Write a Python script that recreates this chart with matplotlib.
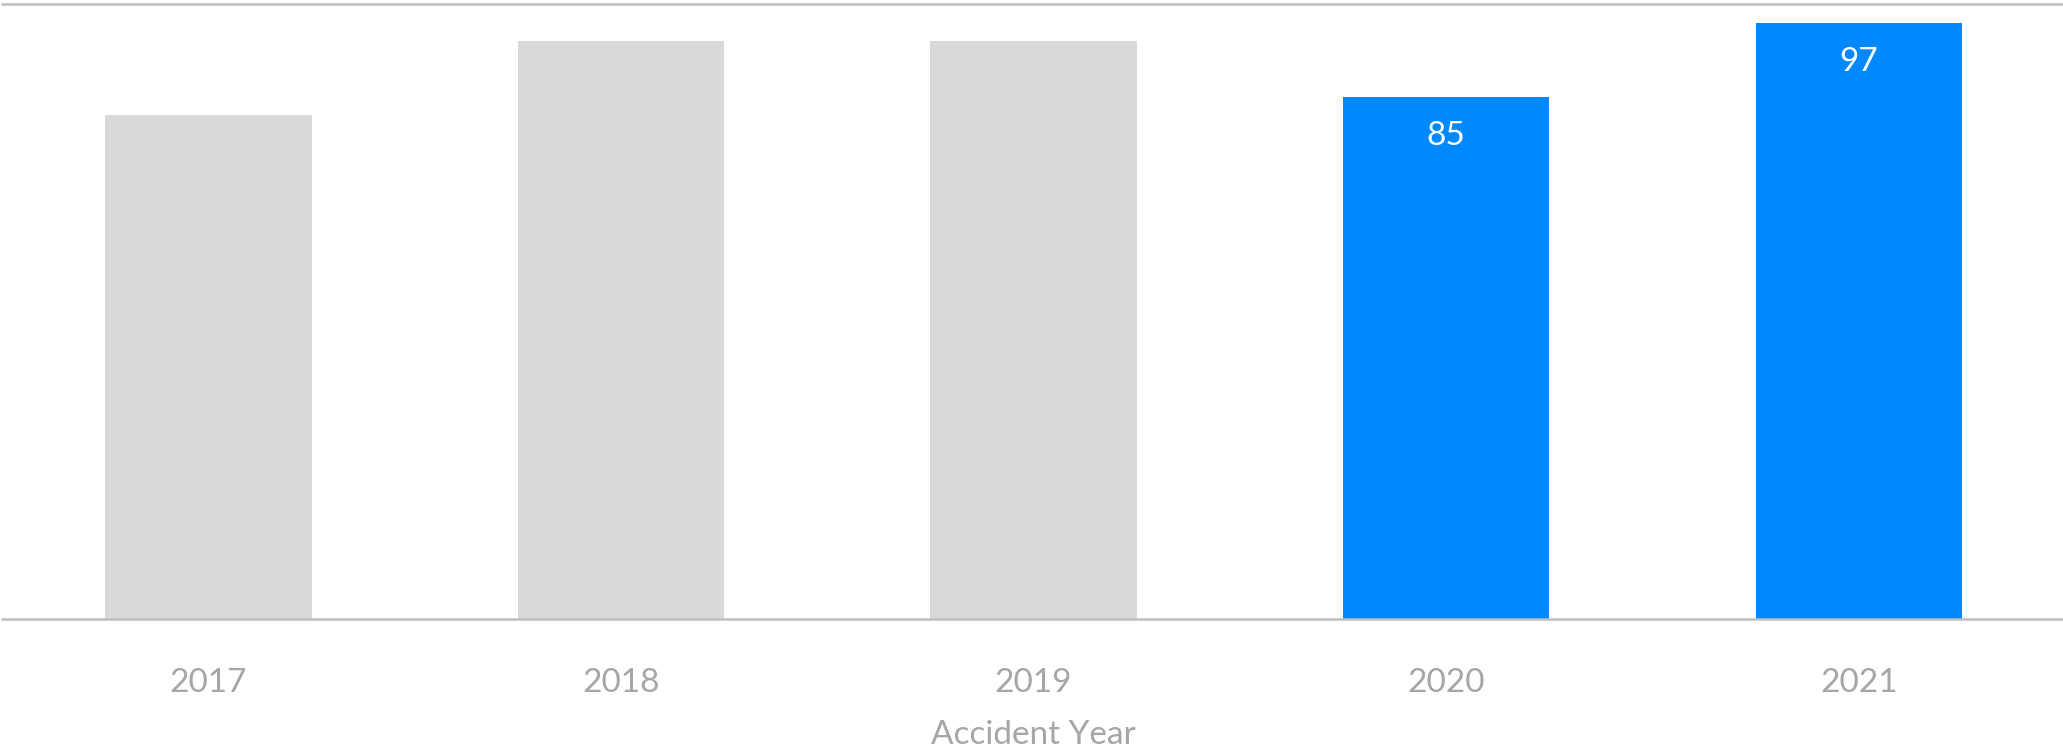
import matplotlib
matplotlib.use("Agg")
import matplotlib.pyplot as plt

years = ["2017", "2018", "2019", "2020", "2021"]
values = [82, 94, 94, 85, 97]
highlight = [False, False, False, True, True]
labeled = [False, False, False, True, True]

plt.rcParams['font.family'] = ['Lato', 'DejaVu Sans']

fig = plt.figure(figsize=(20.63, 7.49), dpi=100)
ax = fig.add_axes([0.001, 0.1736, 1.0, 0.8204])

colors = ["#0088FF" if h else "#D9D9D9" for h in highlight]
x = list(range(len(years)))
bars = ax.bar(x, values, width=0.5, color=colors, zorder=2)

ax.set_xlim(-0.5, len(years) - 0.5)
ax.set_ylim(0, 100)
ax.axhline(100, color="#BFBFBF", linewidth=1.8, zorder=1, clip_on=False)
ax.axhline(0, color="#BFBFBF", linewidth=1.8, zorder=3, clip_on=False)

for s in ax.spines.values():
    s.set_visible(False)
ax.set_yticks([])
ax.set_xticks(x)
ax.set_xticklabels(years, fontsize=24, color="#A6A6A6")
ax.tick_params(axis="x", length=0, pad=35)
ax.set_xlabel("Accident Year", fontsize=24, color="#A6A6A6", labelpad=16)

for xi, v, lab in zip(x, values, labeled):
    if lab:
        ax.annotate(str(v), (xi, v), xytext=(0, -28), textcoords="offset points",
                    ha="center", va="center", color="white", fontsize=24)

fig.savefig("out.png", dpi=100)
